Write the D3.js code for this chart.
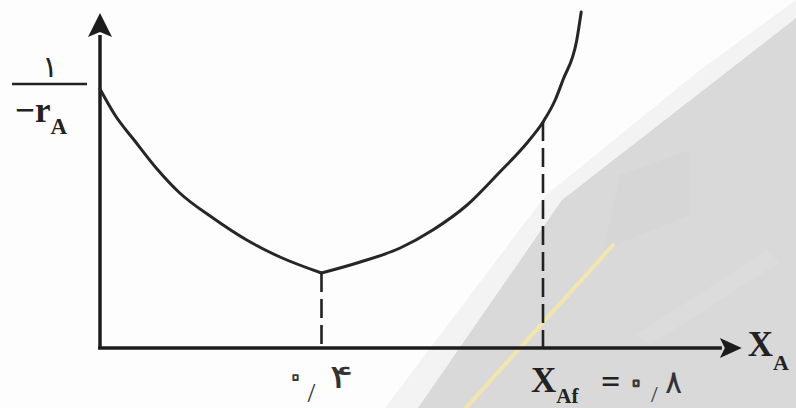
<!DOCTYPE html>
<html>
<head>
<meta charset="utf-8">
<script src="https://cdn.jsdelivr.net/npm/d3@7"></script>
<style>
  html, body { margin: 0; padding: 0; background: #fdfdfd; }
  svg { display: block; }
</style>
</head>
<body>
<svg id="chart" width="796" height="408"></svg>
<script>
// ---- data (conversion X_A vs 1/(-r_A), arbitrary units) ----
const leftX  = [0, 0.027, 0.063, 0.103, 0.144, 0.204, 0.265, 0.325, 0.40];
const leftY  = [2.59, 2.33, 2.07, 1.79, 1.55, 1.30, 1.08, 0.91, 0.75];
const rightX = [0.40, 0.47, 0.542, 0.601, 0.663, 0.722, 0.771, 0.80, 0.822, 0.836, 0.861, 0.869];
const rightY = [0.75, 0.86, 1.00, 1.18, 1.43, 1.76, 2.05, 2.26, 2.48, 2.68, 3.08, 3.36];
const markX  = [0.4, 0.8];            // dashed guide positions
const tickLabels = ["۰/۴", "X_Af = ۰/۸"];
const axisLabelX = "X_A";
const axisLabelY = ["۱", "−r_A"];

const svg = d3.select("#chart");
const W = 796, H = 408;

// ---- background (photo/watermark tones) ----
const bg = svg.append("g");
bg.append("rect").attr("width", W).attr("height", H).attr("fill", "#fdfdfd");
bg.append("path").attr("d", "M385,408 L545,196 L700,70 L796,0 L796,408 Z").attr("fill", "#f3f3f3");
bg.append("path").attr("d", "M418,408 L562,200 L796,18 L796,408 Z").attr("fill", "#d9d9d9");
bg.append("path").attr("d", "M603,250 L620,175 L690,150 L690,215 Z").attr("fill", "#d1d1d1").attr("opacity", 0.4);
bg.append("path").attr("d", "M636,335 L766,250 L780,262 L650,345 Z").attr("fill", "#dedede").attr("opacity", 0.6);
bg.append("line").attr("x1", 614).attr("y1", 244).attr("x2", 464).attr("y2", 410)
  .attr("stroke", "#f3e6ad").attr("stroke-width", 4);

// ---- scales ----
const x = d3.scaleLinear().domain([0, 1]).range([100, 653.75]);
const y = d3.scaleLinear().domain([0, 3.4]).range([348, 8]);

const ink = "#1c1c1c";

// ---- axes ----
const axisXMax = 1.123, axisXTip = 1.159;
const axisYMax = 3.13, axisYTip = 3.35;
svg.append("line")
  .attr("x1", x(0)).attr("y1", y(0)).attr("x2", x(0)).attr("y2", y(axisYMax))
  .attr("stroke", ink).attr("stroke-width", 3.5);
svg.append("line")
  .attr("x1", x(0) - 2).attr("y1", y(0)).attr("x2", x(axisXMax)).attr("y2", y(0))
  .attr("stroke", ink).attr("stroke-width", 3.5);
svg.append("path")
  .attr("d", `M${x(0)},${y(axisYTip)} L${x(0) + 12},${y(axisYMax) + 2} L${x(0)},${y(axisYMax) - 3} L${x(0) - 12},${y(axisYMax) + 2} Z`)
  .attr("fill", ink);
svg.append("path")
  .attr("d", `M${x(axisXTip)},${y(0)} L${x(axisXMax) - 2},${y(0) - 10} L${x(axisXMax) + 3},${y(0)} L${x(axisXMax) - 2},${y(0) + 10} Z`)
  .attr("fill", ink);

// ---- dashed guides ----
const curveAt = v => {
  const i = rightX.indexOf(v);
  return i >= 0 ? rightY[i] : leftY[leftX.indexOf(v)];
};
markX.forEach(v => {
  svg.append("line")
    .attr("x1", x(v)).attr("x2", x(v))
    .attr("y1", y(curveAt(v))).attr("y2", y(0))
    .attr("stroke", "#222").attr("stroke-width", 2.6)
    .attr("stroke-dasharray", "19,7");
});

// ---- curve ----
const line = d3.line().x(d => x(d[0])).y(d => y(d[1])).curve(d3.curveMonotoneX);
[[leftX, leftY], [rightX, rightY]].forEach(([xs, ys]) => {
  svg.append("path")
    .attr("d", line(xs.map((v, i) => [v, ys[i]])))
    .attr("fill", "none").attr("stroke", "#262626").attr("stroke-width", 3)
    .attr("stroke-linejoin", "round").attr("stroke-linecap", "round");
});

// ---- text ----
const serif = "'Liberation Serif', 'DejaVu Serif', serif";
const arab = "'DejaVu Sans', sans-serif";

function persianNumber(g, str, o) {
  // str like "۰/۴" : zero (outlined, drawn as a ring), decimal mark, digit
  const [a, b] = str.split("/");
  g.append("text").attr("x", o.zx).attr("y", o.zy).attr("text-anchor", "middle")
    .attr("font-family", arab).attr("font-size", o.zs)
    .attr("fill", "none").attr("stroke", "#3a3a3a").attr("stroke-width", o.zw)
    .attr("stroke-linejoin", "round").text(a);
  g.append("text").attr("x", o.sx).attr("y", o.sy).attr("font-family", serif)
    .attr("font-size", o.ss).attr("fill", "#333").text("/");
  g.append("text")
    .attr("transform", `translate(${o.dx},${o.dy}) scale(${o.dsx},1)`)
    .attr("font-family", arab).attr("font-size", o.ds).attr("fill", "#333").text(b);
}

const tg = svg.append("g");
const c1 = x(markX[0]);
persianNumber(tg, tickLabels[0].trim(), {
  zx: c1 - 26, zy: 389, zs: 40, zw: 1.9,
  sx: c1 - 14, sy: 402, ss: 28,
  dx: c1 + 8, dy: 388, ds: 33, dsx: 1.35
});

// tick 0.8 : X_Af = ۰/۸
const c2 = x(markX[1]);
const t2 = tickLabels[1].split("=");
const sub2 = t2[0].trim().split("_");
tg.append("text").attr("x", c2 - 12).attr("y", 392)
  .attr("font-family", serif).attr("font-weight", "bold").attr("font-size", 35).attr("fill", "#222")
  .text(sub2[0])
  .append("tspan").attr("dy", 11).attr("font-size", 21).text(sub2[1]);
tg.append("text").attr("x", c2 + 58).attr("y", 393)
  .attr("font-family", serif).attr("font-weight", "bold").attr("font-size", 34).attr("fill", "#222").text("=");
persianNumber(tg, t2[1].trim(), {
  zx: c2 + 93, zy: 396, zs: 44, zw: 2.3,
  sx: c2 + 108, sy: 402, ss: 24,
  dx: c2 + 122, dy: 393, ds: 32, dsx: 1.0
});

// axis label X_A
const ax = axisLabelX.split("_");
svg.append("text").attr("x", x(axisXTip) + 6).attr("y", 356)
  .attr("font-family", serif).attr("font-weight", "bold").attr("font-size", 35).attr("fill", "#222")
  .text(ax[0])
  .append("tspan").attr("dy", 14).attr("font-size", 22).text(ax[1]);

// axis label Y : ۱ / (−r_A)
svg.append("text").attr("x", 50).attr("y", 77).attr("text-anchor", "middle")
  .attr("font-family", arab).attr("font-size", 30).attr("fill", "#222").text(axisLabelY[0]);
svg.append("line").attr("x1", 12).attr("x2", 87).attr("y1", 84).attr("y2", 84)
  .attr("stroke", "#222").attr("stroke-width", 2.6);
const ry = axisLabelY[1].split("_");
svg.append("text").attr("x", 15).attr("y", 122)
  .attr("font-family", serif).attr("font-weight", "bold").attr("font-size", 35).attr("fill", "#222")
  .text(ry[0])
  .append("tspan").attr("dy", 12).attr("font-size", 23).text(ry[1]);
</script>
</body>
</html>
